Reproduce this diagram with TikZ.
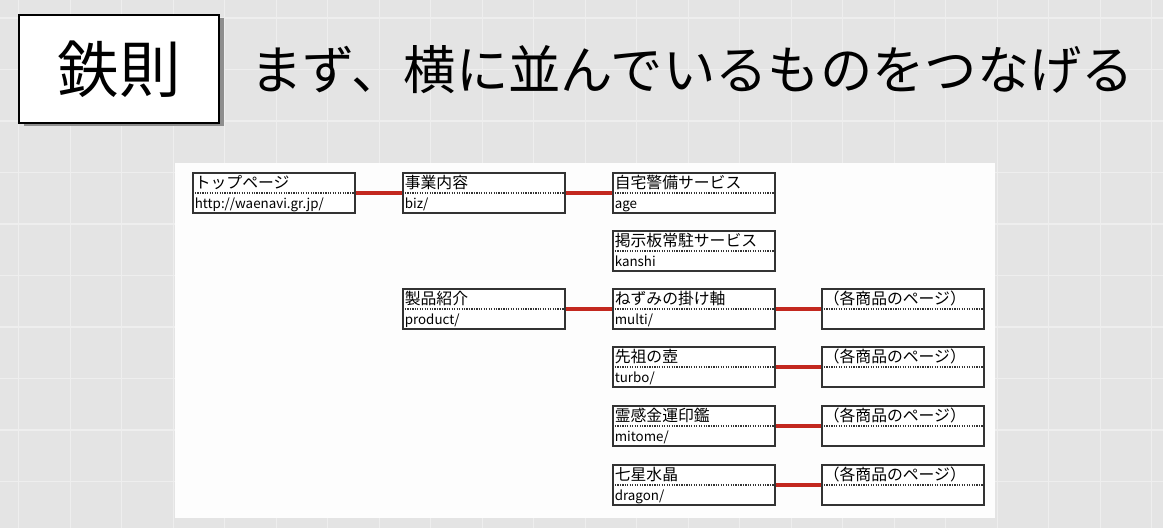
\documentclass[tikz,border=0pt]{standalone}
\usepackage{fontspec}
\setmainfont{Noto Sans CJK JP}
\usetikzlibrary{positioning}
\definecolor{bggray}{HTML}{E4E4E4}
\definecolor{gridwhite}{HTML}{EEEEEE}
\definecolor{panelwhite}{HTML}{FDFDFD}
\definecolor{boxline}{HTML}{333333}
\definecolor{linkred}{HTML}{C3281F}
\definecolor{shadowgray}{HTML}{8E8E8E}
\tikzset{
  rulebox/.style={draw=black,fill=white,line width=0.8pt,minimum width=4cm,minimum height=2.16cm,inner sep=0,font=\fontsize{35}{40}\selectfont},
  headline/.style={font=\fontsize{29.8}{34}\selectfont,anchor=west,inner sep=0},
  page/.style={draw=boxline,fill=white,line width=0.6pt,minimum width=3.24cm,minimum height=0.8cm,inner sep=0},
  sepline/.style={draw=boxline,line width=0.6pt,dash pattern=on 0.7pt off 0.7pt},
  pagename/.style={font=\fontsize{9}{10}\selectfont,inner sep=0,anchor=base west},
  pageurl/.style={font=\fontsize{7.6}{8}\selectfont,inner sep=0,anchor=base west},
  link/.style={draw=linkred,line width=1.8pt},
  gridline/.style={draw=gridwhite,line width=0.6pt}
}
\begin{document}
\begin{tikzpicture}[x=1cm,y=1cm]
\path[use as bounding box,fill=bggray] (0,0) rectangle (23.26,10.56);
\foreach \i in {0,...,22} \draw[gridline] ({0.372+1.03*\i},0)--++(0,10.56);
\foreach \i in {0,...,10} \draw[gridline] (0,{10.2-1.03*\i})--++(23.26,0);

% title
\fill[shadowgray] (0.47,8.03) rectangle (4.47,10.19);
\node[rulebox] (rule) at (2.38,9.18) {鉄則};
\node[headline] (head) at (5.0,9.16) {まず、横に並んでいるものをつなげる};

% site map
\fill[panelwhite] (3.5,0.2) rectangle (19.9,7.30);
\foreach \n/\x/\y/\a/\b in {
  top/5.48/6.70/{トップページ}/{http://waenavi.gr.jp/},
  biz/9.68/6.70/{事業内容}/{biz/},
  age/13.88/6.70/{自宅警備サービス}/{age},
  kanshi/13.88/5.54/{掲示板常駐サービス}/{kanshi},
  product/9.68/4.38/{製品紹介}/{product/},
  multi/13.88/4.38/{ねずみの掛け軸}/{multi/},
  turbo/13.88/3.22/{先祖の壺}/{turbo/},
  mitome/13.88/2.04/{霊感金運印鑑}/{mitome/},
  dragon/13.88/0.86/{七星水晶}/{dragon/},
  multiitem/18.06/4.38/{（各商品のページ）}/{},
  turboitem/18.06/3.22/{（各商品のページ）}/{},
  mitomeitem/18.06/2.04/{（各商品のページ）}/{},
  dragonitem/18.06/0.86/{（各商品のページ）}/{}}{
\node[page] (\n) at (\x,\y) {};
\draw[sepline] (\n.west)--(\n.east);
\node[pagename] (\n-name) at ([shift={(0.04,0.09)}]\n.west) {\a};
\node[pageurl] (\n-url) at ([shift={(0.04,-0.31)}]\n.west) {\b};
}
\draw[link] (top.east)--(biz.west);
\draw[link] (biz.east)--(age.west);
\draw[link] (product.east)--(multi.west);
\foreach \n in {multi,turbo,mitome,dragon} \draw[link] (\n.east)--(\n item.west);
\end{tikzpicture}
\end{document}
